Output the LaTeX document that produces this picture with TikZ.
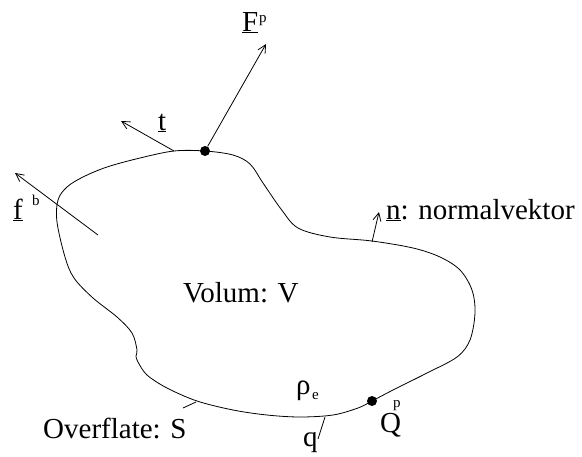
\documentclass[tikz,border=0pt]{standalone}
\usepackage{fontspec}
\setmainfont{Liberation Serif}
\usetikzlibrary{arrows.meta}
\tikzset{
  outline/.style={line width=0.8pt},
  vec/.style={line width=0.8pt,-{Straight Barb[length=8pt,width=8pt,line width=0.8pt]}},
  tick/.style={line width=0.8pt},
  lbl/.style={inner sep=0pt,anchor=base west,font=\fontsize{29}{34}\selectfont},
  sup/.style={inner sep=0pt,anchor=base west,font=\fontsize{15}{18}\selectfont},
  dotpt/.style={circle,fill=black,inner sep=0pt,minimum size=10pt}
}
\begin{document}
\begin{tikzpicture}[x=1pt,y=-1pt]
\useasboundingbox (0,0) rectangle (582,456);
% closed surface S
\draw[outline] plot[smooth cycle,tension=0.55] coordinates {
(205,151) (233,155) (250,164) (263,183) (281,209) (298,228) (330,237) (372,241)
(413,248) (440,257) (460,270) (472,290) (475,313) (470,340) (457,357) (427,373)
(393,390) (372,401) (358,408) (333,415) (300,417) (267,415) (233,410) (197,401)
(167,388) (147,375) (138,362) (136,356) (137,350) (132,333) (117,317) (93,298)
(74,278) (65,257) (57,222) (58,200) (67,187) (83,177) (107,167) (140,158) (174,151)};
% points
\node[dotpt] (P) at (205,151) {};
\node[dotpt] (Qd) at (372,401) {};
% vector end points
\coordinate (Ftip) at (266,44);
\coordinate (tstart) at (174,151);
\coordinate (ttip) at (121,121);
\coordinate (fstart) at (98,235);
\coordinate (ftip) at (15,173);
\coordinate (nstart) at (372,242);
\coordinate (ntip) at (379,212);
\coordinate (qa) at (325,417);
\coordinate (qb) at (318,439);
\coordinate (sa) at (196,402);
\coordinate (sb) at (183,408);
% vectors
\draw[vec] (P) -- (Ftip);
\draw[vec] (tstart) -- (ttip);
\draw[vec] (fstart) -- (ftip);
\draw[vec] (nstart) -- (ntip);
\draw[tick] (qa) -- (qb);
\draw[tick] (sa) -- (sb);
% labels
\node[lbl] (Fl) at (242,31) {\underline{F}};
\node[sup] (Fs) at (259,22) {p};
\node[lbl] (tl) at (158,130) {\underline{t}};
\node[lbl] (fl) at (13,219) {\underline{f}};
\node[sup] (fs) at (32,205) {b};
\node[lbl] (nl) at (386,219) {\underline{n}: normalvektor};
\node[lbl] (Vl) at (183,302) {Volum: V};
\node[lbl] (rl) at (296,394) {ρ};
\node[sup] (rs) at (312,399) {e};
\node[lbl] (Sl) at (43,438) {Overflate: S};
\node[lbl] (ql) at (303,446) {q};
\node[lbl] (Ql) at (380,432) {Q};
\node[sup] (Qs) at (393,407) {p};
\end{tikzpicture}
\end{document}
